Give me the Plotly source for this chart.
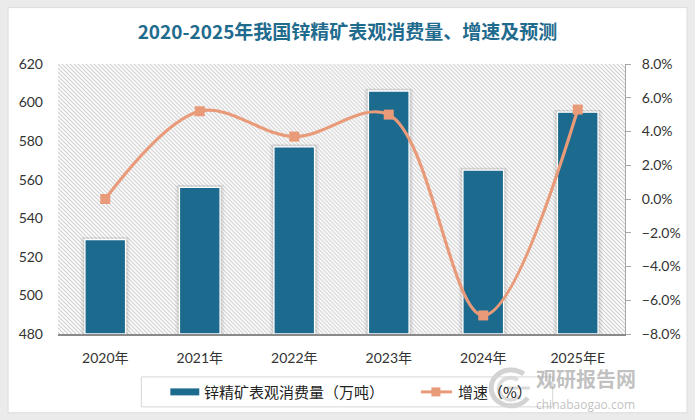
import base64
import plotly.graph_objects as go

# ---------------- data ----------------
categories = ["2020年", "2021年", "2022年", "2023年", "2024年", "2025年E"]
consumption = [529, 556, 577, 606, 565, 595]          # 万吨
growth = [0.000, 0.052, 0.037, 0.050, -0.069, 0.053]  # 增速
bar_name = "锌精矿表观消费量（万吨）"
line_name = "增速（%）"
title_text = "2020-2025年我国锌精矿表观消费量、增速及预测"

# ---------------- style ----------------
BAR_COLOR = "#1C6B8E"
LINE_COLOR = "#E89A79"
TITLE_COLOR = "#1F6B8E"
TICK_COLOR = "#333333"
FONT = "Lato, 'Noto Sans CJK SC', sans-serif"
CJK = "'Noto Sans CJK SC', sans-serif"

W_PX, H_PX = 695, 420
L, R, T, B = 57.5, 625.4, 63.5, 334.0
PW, PH = R - L, B - T


def px(x):
    return (x - L) / PW


def py(y):
    return (B - y) / PH


# hatch pattern for plot area
svg = f'''<svg xmlns="http://www.w3.org/2000/svg" width="{PW:.0f}" height="{PH:.0f}">
<defs><pattern id="h" patternUnits="userSpaceOnUse" width="4" height="4">
<rect width="4" height="4" fill="#ffffff"/>
<path d="M-1,3 l2,2 M0,0 l4,4 M3,-1 l2,2" stroke="#cfcfcf" stroke-width="1.15"/>
</pattern></defs>
<rect width="100%" height="100%" fill="url(#h)"/></svg>'''
hatch_uri = "data:image/svg+xml;base64," + base64.b64encode(svg.encode()).decode()

# watermark swirl
swirl = '''<svg xmlns="http://www.w3.org/2000/svg" width="50" height="44">
<path d="M40,8 A20,18 0 1 0 44,32" fill="none" stroke="#c9c9c9" stroke-width="5"/>
<path d="M34,14 A12,11 0 1 0 36,30" fill="none" stroke="#d5d5d5" stroke-width="4"/>
<path d="M20,22 L46,22" stroke="#d0d0d0" stroke-width="3"/>
</svg>'''
swirl_uri = "data:image/svg+xml;base64," + base64.b64encode(swirl.encode()).decode()

fig = go.Figure()

# soft shadow behind bars
for extra, alpha in [(0.09, 0.05), (0.05, 0.07)]:
    fig.add_trace(go.Bar(
        x=categories, y=[v - 480 + 1.2 for v in consumption], base=480,
        width=0.43 + extra, marker=dict(color=f"rgba(0,0,0,{alpha})", line=dict(width=0)),
        hoverinfo="skip", showlegend=False,
    ))

fig.add_trace(go.Bar(
    x=categories, y=[v - 480 for v in consumption], base=480, name=bar_name,
    width=0.43, marker=dict(color=BAR_COLOR, line=dict(color="white", width=1.3)),
    showlegend=False,
))

fig.add_trace(go.Scatter(
    x=categories, y=growth, yaxis="y2", name=line_name, mode="lines+markers",
    line=dict(color=LINE_COLOR, width=3.2, shape="spline", smoothing=1.0),
    marker=dict(symbol="square", size=10, color=LINE_COLOR),
    showlegend=False,
))

shapes = [
    # outer grey frame
    dict(type="rect", xref="paper", yref="paper",
         x0=px(0), x1=px(W_PX), y0=py(0), y1=py(H_PX),
         line=dict(color="#ebebeb", width=15), layer="below"),
    dict(type="rect", xref="paper", yref="paper",
         x0=px(7.5), x1=px(687.5), y0=py(7), y1=py(413),
         line=dict(color="#dddddd", width=1), layer="below"),
    # legend box
    dict(type="rect", xref="paper", yref="paper",
         x0=px(141), x1=px(553), y0=py(377), y1=py(407),
         line=dict(color="#d6d6d6", width=1), fillcolor="rgba(255,255,255,0)"),
    # legend bar symbol
    dict(type="rect", xref="paper", yref="paper",
         x0=px(170), x1=px(199), y0=py(388.5), y1=py(395.5),
         line=dict(width=0), fillcolor=BAR_COLOR),
    # legend line symbol
    dict(type="line", xref="paper", yref="paper",
         x0=px(421), x1=px(452), y0=py(392), y1=py(392),
         line=dict(color=LINE_COLOR, width=3)),
    dict(type="rect", xref="paper", yref="paper",
         x0=px(431.5), x1=px(440.5), y0=py(387.5), y1=py(396.5),
         line=dict(width=0), fillcolor=LINE_COLOR),
]

annotations = [
    dict(text=bar_name, xref="paper", yref="paper", x=px(202), y=py(392),
         xanchor="left", yanchor="middle", showarrow=False,
         font=dict(family=CJK, size=15, color="#222222")),
    dict(text=line_name, xref="paper", yref="paper", x=px(456), y=py(392),
         xanchor="left", yanchor="middle", showarrow=False,
         font=dict(family=CJK, size=15, color="#222222")),
    # watermark
    dict(text="<b>观研报告网</b>", xref="paper", yref="paper", x=px(586), y=py(379),
         xanchor="center", yanchor="middle", showarrow=False,
         font=dict(family=CJK, size=20, color="rgba(140,140,140,0.55)")),
    dict(text="chinabaogao.com", xref="paper", yref="paper", x=px(586), y=py(404.5),
         xanchor="center", yanchor="middle", showarrow=False,
         font=dict(family="'Open Sans', sans-serif", size=12, color="rgba(140,140,140,0.55)")),
]

images = [
    dict(source=hatch_uri, xref="paper", yref="paper", x=0, y=1, sizex=1, sizey=1,
         xanchor="left", yanchor="top", sizing="stretch", layer="below"),
    dict(source=swirl_uri, xref="paper", yref="paper", x=px(484), y=py(366),
         sizex=50 / PW, sizey=44 / PH, xanchor="left", yanchor="top",
         sizing="stretch", layer="above", opacity=0.8),
]

fig.update_layout(
    width=W_PX, height=H_PX,
    margin=dict(l=L, r=W_PX - R, t=T, b=H_PX - B, pad=0),
    paper_bgcolor="white", plot_bgcolor="rgba(0,0,0,0)",
    barmode="overlay", bargap=0.57,
    showlegend=False,
    title=dict(text=title_text, x=0.5, xref="container", y=1 - 32 / H_PX,
               yref="container", xanchor="center", yanchor="middle",
               font=dict(family=CJK, size=19, color=TITLE_COLOR, weight="bold")),
    font=dict(family=FONT, color=TICK_COLOR, size=14),
    xaxis=dict(type="category", showgrid=False, showline=True, linecolor="#8a8a8a",
               linewidth=1.5, ticks="", tickfont=dict(size=14, color=TICK_COLOR),
               ticklabelstandoff=10, zeroline=False),
    yaxis=dict(range=[480, 620], dtick=20, showgrid=False, showline=False, ticks="",
               tickfont=dict(size=14, color=TICK_COLOR), ticklabelstandoff=14,
               zeroline=False),
    yaxis2=dict(range=[-0.08, 0.08], dtick=0.02, tickformat=".1%", overlaying="y",
                side="right", showgrid=False, showline=True, linecolor="#a6a6a6",
                linewidth=1, ticks="outside", ticklen=5, tickcolor="#a6a6a6",
                tickfont=dict(size=14, color=TICK_COLOR), ticklabelstandoff=8,
                zeroline=False),
    shapes=shapes, annotations=annotations, images=images,
)

fig.write_html("out.html", config={"displayModeBar": False},
               post_script="document.body.style.margin='0';document.body.style.overflow='hidden';")
